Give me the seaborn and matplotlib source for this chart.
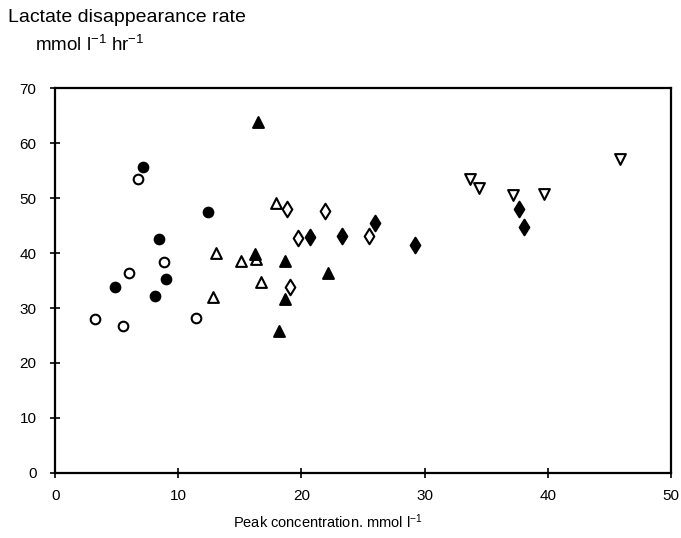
import matplotlib
matplotlib.use("Agg")
import matplotlib.pyplot as plt
from matplotlib.path import Path
import seaborn as sns
import pandas as pd

# Peak concentration (mmol l-1) and lactate disappearance rate (mmol l-1 hr-1)
open_circle_x = [3.2, 5.5, 6.0, 6.7, 8.8, 11.4]
open_circle_y = [28.0, 26.8, 36.4, 53.5, 38.4, 28.2]

filled_circle_x = [4.9, 7.1, 8.1, 8.4, 9.0, 12.4]
filled_circle_y = [33.8, 55.7, 32.2, 42.5, 35.3, 47.4]

open_triangle_x = [12.8, 13.1, 15.1, 16.3, 16.7, 17.9]
open_triangle_y = [32.1, 40.0, 38.6, 38.9, 34.7, 49.2]

filled_triangle_x = [16.5, 16.2, 18.7, 18.7, 18.2, 22.2]
filled_triangle_y = [63.8, 39.8, 38.6, 31.6, 25.8, 36.3]

open_diamond_x = [18.8, 19.1, 19.7, 21.9, 25.5]
open_diamond_y = [48.0, 33.9, 42.8, 47.7, 43.1]

filled_diamond_x = [20.7, 23.3, 26.0, 29.2, 37.7, 38.1]
filled_diamond_y = [43.0, 43.1, 45.4, 41.5, 48.0, 44.8]

open_down_x = [33.7, 34.4, 37.2, 39.7, 45.9]
open_down_y = [53.4, 51.8, 50.5, 50.8, 57.1]

x_ticks = [0, 10, 20, 30, 40, 50]
y_ticks = [0, 10, 20, 30, 40, 50, 60, 70]

# tall diamond marker
diamond = Path([(0, 1), (0.62, 0), (0, -1), (-0.62, 0), (0, 1)],
               [Path.MOVETO, Path.LINETO, Path.LINETO, Path.LINETO, Path.CLOSEPOLY])

groups = [
    ("open circle", open_circle_x, open_circle_y, "o", False, 48),
    ("filled circle", filled_circle_x, filled_circle_y, "o", True, 48),
    ("open triangle", open_triangle_x, open_triangle_y, "^", False, 60),
    ("filled triangle", filled_triangle_x, filled_triangle_y, "^", True, 60),
    ("open diamond", open_diamond_x, open_diamond_y, diamond, False, 125),
    ("filled diamond", filled_diamond_x, filled_diamond_y, diamond, True, 125),
    ("open down", open_down_x, open_down_y, "v", False, 60),
]

rows = []
for name, xs, ys, *_ in groups:
    for x, y in zip(xs, ys):
        rows.append({"group": name, "peak": x, "rate": y})
df = pd.DataFrame(rows)

sns.set_style("white")
plt.rcParams["font.family"] = ["Liberation Sans", "DejaVu Sans"]
plt.rcParams["mathtext.fontset"] = "custom"
plt.rcParams["mathtext.rm"] = "Liberation Sans"
plt.rcParams["mathtext.it"] = "Liberation Sans"
plt.rcParams["mathtext.default"] = "regular"
plt.rcParams["text.color"] = "black"
plt.rcParams["xtick.bottom"] = True
plt.rcParams["ytick.left"] = True

fig = plt.figure(figsize=(6.81, 5.38), dpi=100)
ax = fig.add_axes([0.081, 0.121, 0.904, 0.715])

for name, _, _, marker, filled, size in groups:
    sub = df[df["group"] == name]
    sns.scatterplot(
        data=sub, x="peak", y="rate", ax=ax,
        marker=marker, s=size,
        facecolor="black" if filled else "white",
        edgecolor="black", linewidth=1.5, legend=False, zorder=3,
    )

ax.set_xlim(0, 50)
ax.set_ylim(0, 70)
ax.set_xticks(x_ticks)
ax.set_yticks(y_ticks)
ax.tick_params(axis="both", direction="inout", length=7, width=1.2,
               labelsize=11, colors="black")
ax.tick_params(axis="y", pad=10)
ax.tick_params(axis="x", pad=8)
for sp in ax.spines.values():
    sp.set_visible(True)
    sp.set_linewidth(1.6)
    sp.set_color("black")

ax.set_xlabel("")
ax.set_ylabel("")

fig.text(328 / 681, 1 - 522 / 538, "Peak concentration. mmol l$^{-1}$",
         fontsize=10.5, ha="center", va="center")
fig.text(8 / 681, 1 - 18 / 538, "Lactate disappearance rate", fontsize=14,
         ha="left", va="center")
fig.text(35 / 681, 1 - 45 / 538, "mmol l$^{-1}$ hr$^{-1}$", fontsize=13.5,
         ha="left", va="center")

fig.savefig("out.png", dpi=100, facecolor="white")
